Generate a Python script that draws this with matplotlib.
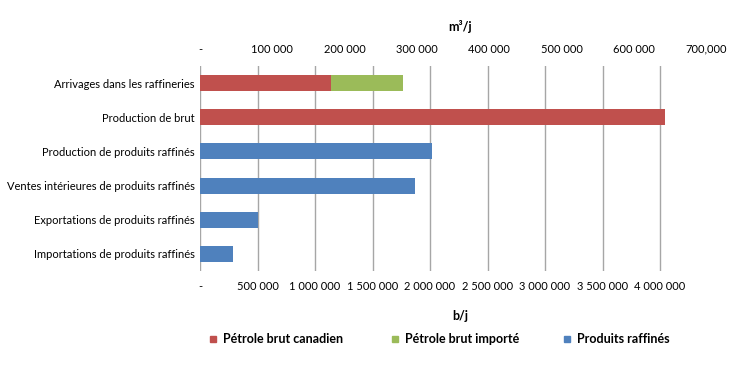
import matplotlib
matplotlib.use('Agg')
import matplotlib.pyplot as plt
from matplotlib.ticker import FixedLocator, FixedFormatter
from matplotlib.patches import Rectangle

plt.rcParams['font.family'] = ['Lato', 'DejaVu Sans']

# données (b/j)
categories = ['Arrivages dans les raffineries', 'Production de brut',
              'Production de produits raffinés',
              'Ventes intérieures de produits raffinés',
              'Exportations de produits raffinés',
              'Importations de produits raffinés']
brut_canadien = [1140000, 4040000, 0, 0, 0, 0]
brut_importe = [625000, 0, 0, 0, 0, 0]
produits_raffines = [0, 0, 2020000, 1870000, 500000, 290000]

bottom_ticks = [0, 500000, 1000000, 1500000, 2000000, 2500000, 3000000, 3500000, 4000000]
bottom_labels = ['-', '500 000', '1 000 000', '1 500 000', '2 000 000',
                 '2 500 000', '3 000 000', '3 500 000', '4 000 000']
top_ticks = [0, 100000, 200000, 300000, 400000, 500000, 600000, 700000]
top_labels = ['-', '100 000', '200 000', '300 000', '400 000', '500 000',
              '600 000', '700,000']
bbl_par_m3 = 6.29

series_names = ['Pétrole brut canadien', 'Pétrole brut importé', 'Produits raffinés']
c_red = '#C0504D'
c_green = '#9BBB59'
c_blue = '#4F81BD'
colors = [c_red, c_green, c_blue]

W, H = 740, 372
fig = plt.figure(figsize=(7.4, 3.72), dpi=100)
ax = fig.add_axes([200 / W, 1 - 271 / H, 520 / W, 205 / H])

y = list(range(len(categories)))
h = 0.47
ax.barh(y, brut_canadien, height=h, color=c_red, zorder=3)
ax.barh(y, brut_importe, left=brut_canadien, height=h, color=c_green, zorder=3)
ax.barh(y, produits_raffines, height=h, color=c_blue, zorder=3)

ax.set_ylim(5.5, -0.5)
ax.set_xlim(0, 4521000)
ax.set_yticks(y)
ax.set_yticklabels(categories, fontsize=8)
ax.xaxis.set_major_locator(FixedLocator(bottom_ticks))
ax.xaxis.set_major_formatter(FixedFormatter(bottom_labels))
ax.tick_params(axis='both', length=0, labelsize=8)
ax.tick_params(axis='x', pad=7.5)
ax.tick_params(axis='y', pad=4)
ax.grid(axis='x', color='#A6A6A6', linewidth=1.0, zorder=0)
for s in ax.spines.values():
    s.set_visible(False)
ax.set_xlabel('b/j', fontsize=9, fontweight='bold', labelpad=13)

sec = ax.secondary_xaxis('top', functions=(lambda x: x / bbl_par_m3,
                                           lambda x: x * bbl_par_m3))
sec.xaxis.set_major_locator(FixedLocator(top_ticks))
sec.xaxis.set_major_formatter(FixedFormatter(top_labels))
sec.tick_params(length=0, labelsize=8, pad=8)
for s in sec.spines.values():
    s.set_visible(False)
sec.set_xlabel('m³/j', fontsize=9, fontweight='bold', labelpad=9)

# légende
leg_x = [213, 395, 567]
leg_y = 339
for xm, c, name in zip(leg_x, colors, series_names):
    fig.patches.append(Rectangle((xm / W - 3 / W, 1 - (leg_y + 3) / H), 6 / W, 6 / H,
                                 color=c, transform=fig.transFigure))
    fig.text((xm + 10) / W, 1 - leg_y / H, name, fontsize=9, fontweight='bold',
             va='center', ha='left')

fig.savefig('out.png', dpi=100)
